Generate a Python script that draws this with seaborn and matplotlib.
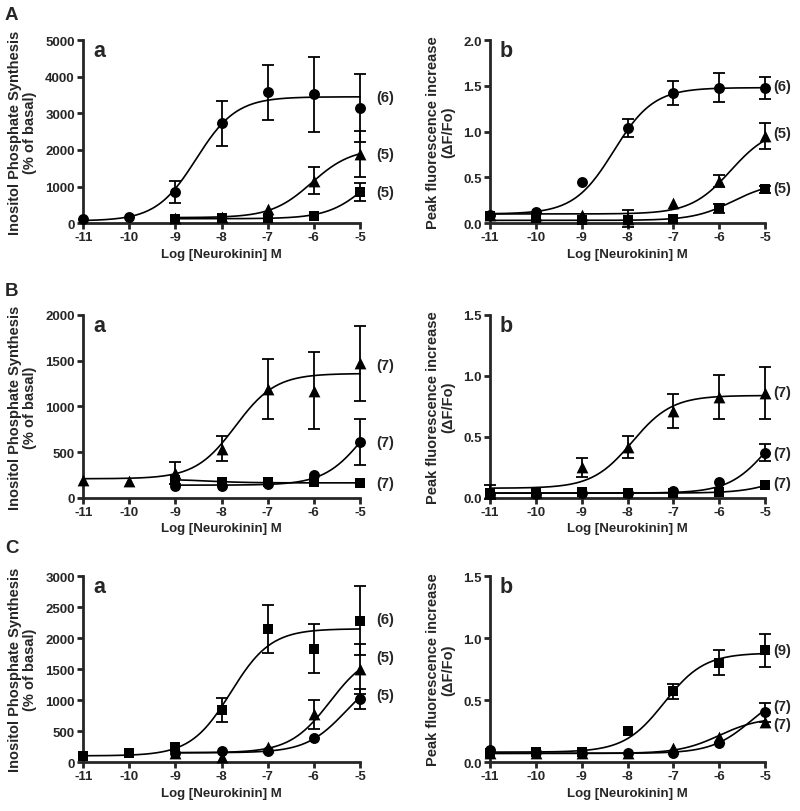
import numpy as np
import pandas as pd
import matplotlib
matplotlib.use("Agg")
import matplotlib.pyplot as plt
import seaborn as sns

# x positions (log molar)
log_conc = [-11, -10, -9, -8, -7, -6, -5]
log_conc_from9 = [-9, -8, -7, -6, -5]

# ---- Row A ----
# a: inositol phosphate
aa_circle_y = [100, 180, 850, 2730, 3580, 3520, 3150]
aa_circle_err = [0, 0, 300, 610, 750, 1030, 930]
aa_circle_fit = (60, 3450, -8.55, 1.0)
aa_tri_y = [150, 160, 380, 1160, 1890]
aa_tri_err = [0, 0, 0, 370, 620]
aa_tri_fit = (150, 2050, -6.05, 1.0)
aa_sq_y = [120, 130, 130, 200, 850]
aa_sq_err = [0, 0, 0, 0, 250]
aa_sq_fit = (120, 2000, -4.8, 1.0)
aa_n_text = ["(6)", "(5)", "(5)"]
aa_n_y = [3450, 1890, 850]
# b: peak fluorescence
ab_circle_y = [0.09, 0.12, 0.45, 1.04, 1.42, 1.48, 1.48]
ab_circle_err = [0, 0, 0, 0.10, 0.13, 0.16, 0.12]
ab_circle_fit = (0.10, 1.48, -8.3, 1.0)
ab_tri_y = [0.09, 0.09, 0.09, 0.05, 0.22, 0.46, 0.95]
ab_tri_err = [0, 0, 0, 0.09, 0, 0.07, 0.14]
ab_tri_fit = (0.10, 1.05, -5.75, 1.0)
ab_sq_y = [0.08, 0.06, 0.03, 0.03, 0.05, 0.16, 0.37]
ab_sq_err = [0, 0, 0, 0, 0, 0.05, 0.04]
ab_sq_fit = (0.03, 0.45, -5.7, 1.0)
ab_n_text = ["(6)", "(5)", "(5)"]
ab_n_y = [1.50, 0.98, 0.38]

# ---- Row B ----
ba_tri_y = [200, 190, 270, 540, 1190, 1170, 1470]
ba_tri_err = [0, 0, 120, 140, 330, 420, 410]
ba_tri_fit = (210, 1360, -7.7, 1.0)
ba_circle_y = [130, 130, 150, 250, 610]
ba_circle_err = [0, 0, 0, 0, 250]
ba_circle_fit = (140, 1200, -4.9, 1.0)
ba_sq_y = [200, 180, 170, 170, 165]
ba_sq_err = [0, 0, 0, 0, 0]
ba_sq_fit = (205, 165, -8.3, 1.0)
ba_n_text = ["(7)", "(7)", "(7)"]
ba_n_y = [1450, 610, 165]

bb_tri_y = [0.05, 0.05, 0.25, 0.42, 0.71, 0.83, 0.86]
bb_tri_err = [0.06, 0, 0.075, 0.09, 0.14, 0.18, 0.21]
bb_tri_fit = (0.08, 0.84, -7.9, 1.0)
bb_circle_y = [0.03, 0.03, 0.04, 0.04, 0.06, 0.13, 0.37]
bb_circle_err = [0, 0, 0, 0, 0, 0, 0.07]
bb_circle_fit = (0.04, 0.80, -4.9, 1.0)
bb_sq_y = [0.04, 0.04, 0.05, 0.04, 0.04, 0.05, 0.11]
bb_sq_err = [0, 0, 0, 0, 0, 0, 0]
bb_sq_fit = (0.04, 0.30, -4.5, 1.0)
bb_n_text = ["(7)", "(7)", "(7)"]
bb_n_y = [0.865, 0.37, 0.12]

# ---- Row C ----
ca_sq_y = [100, 150, 240, 840, 2150, 1830, 2280]
ca_sq_err = [0, 0, 0, 200, 390, 400, 560]
ca_sq_fit = (100, 2150, -7.8, 1.0)
ca_tri_y = [140, 80, 240, 770, 1500]
ca_tri_err = [0, 0, 0, 230, 400]
ca_tri_fit = (150, 1800, -5.65, 1.0)
ca_circle_y = [150, 170, 170, 390, 1020]
ca_circle_err = [0, 0, 0, 0, 160]
ca_circle_fit = (150, 1500, -5.3, 1.0)
ca_n_text = ["(6)", "(5)", "(5)"]
ca_n_y = [2300, 1700, 1080]

cb_sq_y = [0.07, 0.08, 0.08, 0.25, 0.57, 0.80, 0.90]
cb_sq_err = [0, 0, 0, 0, 0.06, 0.10, 0.13]
cb_sq_fit = (0.08, 0.88, -7.2, 1.0)
cb_tri_y = [0.07, 0.07, 0.07, 0.07, 0.11, 0.20, 0.32]
cb_tri_err = [0, 0, 0, 0, 0, 0, 0]
cb_tri_fit = (0.07, 0.36, -6.0, 1.0)
cb_circle_y = [0.10, 0.08, 0.07, 0.07, 0.07, 0.15, 0.40]
cb_circle_err = [0, 0, 0, 0, 0, 0, 0.08]
cb_circle_fit = (0.07, 0.60, -5.3, 1.0)
cb_n_text = ["(9)", "(7)", "(7)"]
cb_n_y = [0.905, 0.45, 0.31]

ip_label = "Inositol Phosphate Synthesis\n(% of basal)"
fl_label = "Peak fluorescence increase\n(\u0394F/Fo)"
x_label = "Log [Neurokinin] M"

sns.set_theme(style="ticks")
plt.rcParams["font.family"] = ["Liberation Sans", "DejaVu Sans"]
plt.rcParams["font.weight"] = "bold"
plt.rcParams["axes.labelweight"] = "bold"

MARK = {"circle": ("o", 62), "tri": ("^", 72), "sq": ("s", 58)}


def hill(x, p):
    bottom, top, logec, h = p
    return bottom + (top - bottom) / (1 + 10 ** ((logec - x) * h))


def draw_panel(ax, series, ymax, ystep, ylabel, letter, n_text, n_y, right):
    for kind, xs, ys, errs, fit in series:
        xs = np.asarray(xs, float)
        xf = np.linspace(xs[0], -5, 200)
        sns.lineplot(x=xf, y=hill(xf, fit), ax=ax, color="black", lw=1.2,
                     zorder=2, clip_on=False)
        df = pd.DataFrame({"x": xs, "y": ys, "e": errs})
        de = df[df.e > 0]
        if len(de):
            cont = ax.errorbar(de.x, de.y, yerr=de.e, fmt="none", ecolor="black",
                               elinewidth=1.3, capsize=4, capthick=1.3, zorder=3)
            for art in cont.get_children():
                art.set_clip_on(False)
        m, s = MARK[kind]
        sns.scatterplot(data=df, x="x", y="y", ax=ax, marker=m, s=s, color="black",
                        edgecolor="black", linewidth=0, zorder=4, clip_on=False)
    ax.set_xlim(-11, -5)
    ax.set_ylim(0, ymax)
    ax.set_xticks(log_conc)
    ax.set_xticklabels([str(v) for v in log_conc])
    ax.set_yticks(np.arange(0, ymax + ystep / 2, ystep))
    if ystep < 1:
        ax.set_yticklabels([f"{v:.1f}" for v in np.arange(0, ymax + ystep / 2, ystep)])
    ax.set_xlabel(x_label, fontsize=9.5, labelpad=3)
    ax.set_ylabel(ylabel, fontsize=10.5, linespacing=1.05, labelpad=6)
    sns.despine(ax=ax)
    for sp in ("left", "bottom"):
        ax.spines[sp].set_linewidth(2.0)
    ax.tick_params(width=2.0, length=4, labelsize=9.5, pad=2)
    ax.text(0.035, 1.0, letter, transform=ax.transAxes, fontsize=15.5,
            fontweight="bold", va="top", ha="left")
    off = 6 if right else 12
    for t, yv in zip(n_text, n_y):
        ax.annotate(t, xy=(-5, yv), xytext=(off, 0), textcoords="offset points",
                    fontsize=10.5, fontweight="bold", va="center", ha="left",
                    annotation_clip=False)


fig = plt.figure(figsize=(8, 8.12), dpi=100)
lefts = [0.104, 0.6125]
w = [0.346, 0.344]
rows = [(0.724, 0.2254), (0.3855, 0.2254), (0.0603, 0.229)]

panels = [
    ([("circle", log_conc, aa_circle_y, aa_circle_err, aa_circle_fit),
      ("tri", log_conc_from9, aa_tri_y, aa_tri_err, aa_tri_fit),
      ("sq", log_conc_from9, aa_sq_y, aa_sq_err, aa_sq_fit)],
     5000, 1000, ip_label, "a", aa_n_text, aa_n_y),
    ([("circle", log_conc, ab_circle_y, ab_circle_err, ab_circle_fit),
      ("tri", log_conc, ab_tri_y, ab_tri_err, ab_tri_fit),
      ("sq", log_conc, ab_sq_y, ab_sq_err, ab_sq_fit)],
     2.0, 0.5, fl_label, "b", ab_n_text, ab_n_y),
    ([("tri", log_conc, ba_tri_y, ba_tri_err, ba_tri_fit),
      ("circle", log_conc_from9, ba_circle_y, ba_circle_err, ba_circle_fit),
      ("sq", log_conc_from9, ba_sq_y, ba_sq_err, ba_sq_fit)],
     2000, 500, ip_label, "a", ba_n_text, ba_n_y),
    ([("tri", log_conc, bb_tri_y, bb_tri_err, bb_tri_fit),
      ("circle", log_conc, bb_circle_y, bb_circle_err, bb_circle_fit),
      ("sq", log_conc, bb_sq_y, bb_sq_err, bb_sq_fit)],
     1.5, 0.5, fl_label, "b", bb_n_text, bb_n_y),
    ([("sq", log_conc, ca_sq_y, ca_sq_err, ca_sq_fit),
      ("tri", log_conc_from9, ca_tri_y, ca_tri_err, ca_tri_fit),
      ("circle", log_conc_from9, ca_circle_y, ca_circle_err, ca_circle_fit)],
     3000, 500, ip_label, "a", ca_n_text, ca_n_y),
    ([("sq", log_conc, cb_sq_y, cb_sq_err, cb_sq_fit),
      ("tri", log_conc, cb_tri_y, cb_tri_err, cb_tri_fit),
      ("circle", log_conc, cb_circle_y, cb_circle_err, cb_circle_fit)],
     1.5, 0.5, fl_label, "b", cb_n_text, cb_n_y),
]

for i, p in enumerate(panels):
    r, c = divmod(i, 2)
    ax = fig.add_axes([lefts[c], rows[r][0], w[c], rows[r][1]])
    draw_panel(ax, *p, right=(c == 1))

for txt, ytop in [("A", 0.991), ("B", 0.652), ("C", 0.335)]:
    fig.text(0.006, ytop, txt, fontsize=13.5, fontweight="bold", va="top", ha="left")

fig.savefig("out.png", dpi=100, facecolor="white")
